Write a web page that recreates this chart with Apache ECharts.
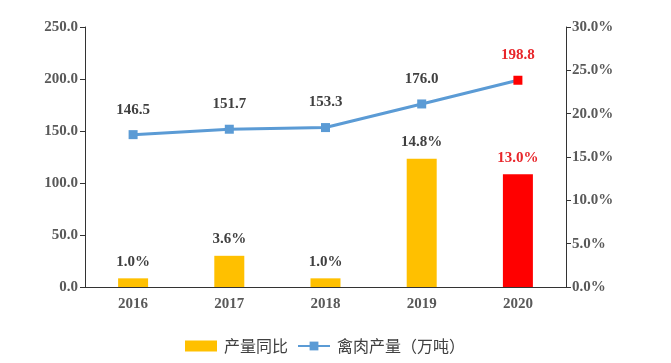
<!DOCTYPE html>
<html><head><meta charset="utf-8">
<script src="https://cdn.jsdelivr.net/npm/echarts@6/dist/echarts.min.js"></script>
<style>html,body{margin:0;padding:0;background:#fff}#c{width:671px;height:363px}</style>
</head><body><div id="c"></div>
<script>
const categories = ['2016','2017','2018','2019','2020'];
const growth = [1.0, 3.6, 1.0, 14.8, 13.0];
const output = [146.5, 151.7, 153.3, 176.0, 198.8];
const leftTicks = {min:0, max:250, interval:50};
const rightTicks = {min:0, max:30, interval:5};
const serif = '"Liberation Serif","Times New Roman",serif';
const labCol = '#404040';
const axCol = '#595959';
const chart = echarts.init(document.getElementById('c'));
chart.setOption({
  animation:false,
  grid:{left:85,right:105,top:27,bottom:76,containLabel:false},
  legend:{bottom:4,left:180,itemGap:9,itemWidth:32,itemHeight:11,
    textStyle:{fontFamily:'"Noto Sans CJK SC",sans-serif',fontSize:16,color:'#404040',padding:[0,0,0,2]},
    data:[{name:'产量同比',icon:'rect'},{name:'禽肉产量（万吨）'}]},
  xAxis:{type:'category',data:categories,
    axisLine:{lineStyle:{color:'#333',width:1}},axisTick:{show:false},
    axisLabel:{fontFamily:serif,fontWeight:'bold',fontSize:15,color:axCol,margin:10}},
  yAxis:[
    {type:'value',min:leftTicks.min,max:leftTicks.max,interval:leftTicks.interval,
     axisLine:{show:true,lineStyle:{color:'#333'}},axisTick:{show:true,length:5,lineStyle:{color:'#333'}},
     splitLine:{show:false},
     axisLabel:{formatter:v=>v.toFixed(1),fontFamily:serif,fontWeight:'bold',fontSize:15,color:axCol,margin:7}},
    {type:'value',min:rightTicks.min,max:rightTicks.max,interval:rightTicks.interval,position:'right',
     axisLine:{show:true,lineStyle:{color:'#333'}},axisTick:{show:true,length:5,lineStyle:{color:'#333'}},
     splitLine:{show:false},
     axisLabel:{formatter:v=>v.toFixed(1)+'%',fontFamily:serif,fontWeight:'bold',fontSize:15,color:axCol,margin:6}}
  ],
  series:[
    {name:'产量同比',type:'bar',yAxisIndex:1,barWidth:30,
     data:growth.map((v,i)=>({value:v,itemStyle:{color:i===growth.length-1?'#FF0000':'#FFC000'},
       label:{color:i===growth.length-1?'#E8262B':labCol}})),
     itemStyle:{color:'#FFC000'},
     label:{show:true,position:'top',distance:9,formatter:p=>p.value.toFixed(1)+'%',
       fontFamily:serif,fontWeight:'bold',fontSize:15,color:labCol}},
    {name:'禽肉产量（万吨）',type:'line',yAxisIndex:0,
     symbol:'rect',symbolSize:9,
     lineStyle:{color:'#5B9BD5',width:3},itemStyle:{color:'#5B9BD5'},
     data:output.map((v,i)=>({value:v,
       itemStyle:{color:i===output.length-1?'#FF0000':'#5B9BD5'},
       label:{color:i===output.length-1?'#E8262B':labCol}})),
     label:{show:true,position:'top',distance:13,formatter:p=>p.value.toFixed(1),
       fontFamily:serif,fontWeight:'bold',fontSize:15,color:labCol}}
  ]
});
</script></body></html>
